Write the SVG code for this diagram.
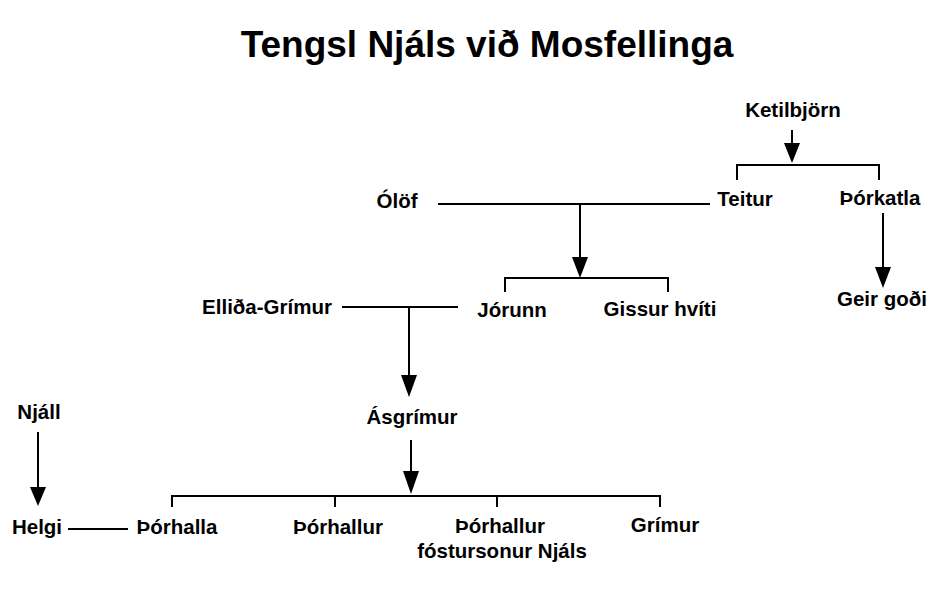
<svg xmlns="http://www.w3.org/2000/svg" width="945" height="592" viewBox="0 0 945 592">
<defs>
<style>
text{font-family:"Liberation Sans",Arial,sans-serif;font-weight:bold;font-size:20.5px;fill:#000;text-anchor:middle}
.title{font-size:37px}
.ln{stroke:#000;stroke-width:2;fill:none}
.ah{fill:#000}
</style>
</defs>
<rect width="945" height="592" fill="#fff"/>
<text class="title" x="487" y="57">Tengsl Njáls við Mosfellinga</text>
<g id="connectors">
<line class="ln" x1="792" y1="130" x2="792" y2="146"/>
<path class="ah" d="M784,143 L800,143 L792,163 Z"/>
<path class="ln" d="M737,180 V165 H879 V180"/>
<line class="ln" x1="438" y1="204" x2="710" y2="204"/>
<line class="ln" x1="580" y1="204" x2="580" y2="260"/>
<path class="ah" d="M572,257 L588,257 L580,278 Z"/>
<path class="ln" d="M505,292 V278 H668 V292"/>
<line class="ln" x1="883" y1="213" x2="883" y2="270"/>
<path class="ah" d="M875,267 L891,267 L883,288 Z"/>
<line class="ln" x1="342" y1="307" x2="458" y2="307"/>
<line class="ln" x1="409" y1="307" x2="409" y2="378"/>
<path class="ah" d="M401,375 L417,375 L409,397 Z"/>
<line class="ln" x1="411" y1="440" x2="411" y2="474"/>
<path class="ah" d="M403,471 L419,471 L411,494 Z"/>
<path class="ln" d="M172,507 V496 H660 V507 M335,496 V507 M497,496 V507"/>
<line class="ln" x1="38" y1="432" x2="38" y2="490"/>
<path class="ah" d="M30,487 L46,487 L38,506 Z"/>
<line class="ln" x1="68" y1="529" x2="128" y2="529"/>
</g>
<g id="ketilbjorn"><text x="793" y="117">Ketilbjörn</text></g>
<g id="teitur"><text x="745" y="206">Teitur</text></g>
<g id="thorkatla"><text x="880" y="205">Þórkatla</text></g>
<g id="olof"><text x="397" y="208">Ólöf</text></g>
<g id="geir"><text x="882" y="306">Geir goði</text></g>
<g id="jorunn"><text x="512" y="317">Jórunn</text></g>
<g id="gissur"><text x="660" y="316">Gissur hvíti</text></g>
<g id="ellida"><text x="267" y="314">Elliða-Grímur</text></g>
<g id="asgrimur"><text x="412" y="424">Ásgrímur</text></g>
<g id="njall"><text x="39" y="419">Njáll</text></g>
<g id="helgi"><text x="37" y="534">Helgi</text></g>
<g id="thorhalla"><text x="177" y="534">Þórhalla</text></g>
<g id="thorhallur1"><text x="338" y="534">Þórhallur</text></g>
<g id="thorhallur2"><text x="500" y="533">Þórhallur</text><text x="502" y="558">fóstursonur Njáls</text></g>
<g id="grimur"><text x="665" y="532">Grímur</text></g>
</svg>
